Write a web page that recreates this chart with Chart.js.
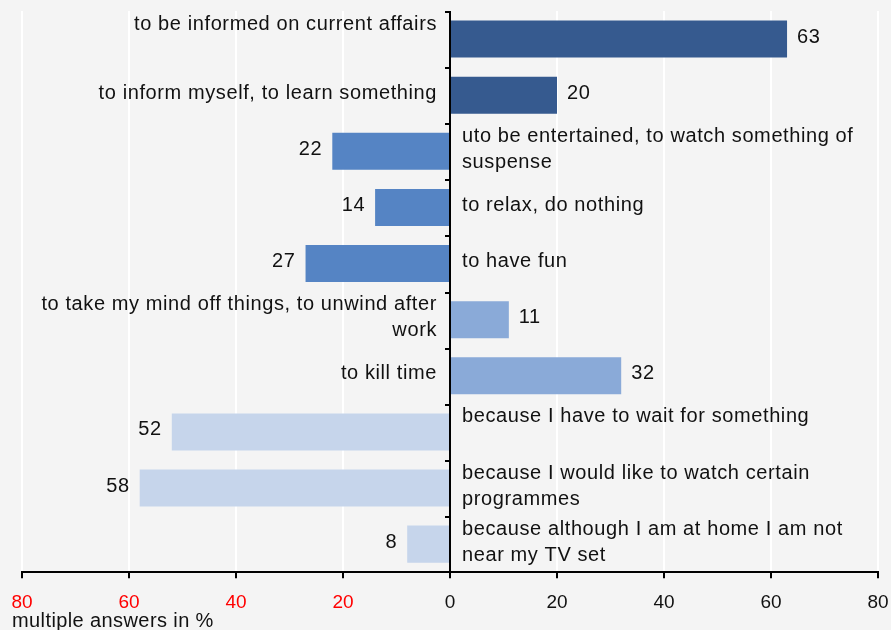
<!DOCTYPE html>
<html>
<head>
<meta charset="utf-8">
<script src="https://cdn.jsdelivr.net/npm/chart.js@4"></script>
<style>
  html, body { margin: 0; padding: 0; background: #f4f4f4; }
  #wrap { width: 891px; height: 630px; }
</style>
</head>
<body>
<div id="wrap"><canvas id="chart"></canvas></div>
<script>
// DATA
const categories = [
  ["to be informed on current affairs", ""],
  ["to inform myself, to learn something"],
  ["uto be entertained, to watch something of", "suspense"],
  ["to relax, do nothing"],
  ["to have fun"],
  ["to take my mind off things, to unwind after", "work"],
  ["to kill time"],
  ["because I have to wait for something", ""],
  ["because I would like to watch certain", "programmes"],
  ["because although I am at home I am not", "near my TV set"]
];
// negative = drawn to the left
const values = [63, 20, -22, -14, -27, 11, 32, -52, -58, -8];
const tickValues = [-80, -60, -40, -20, 0, 20, 40, 60, 80];
const axisTitle = "multiple answers in %";

const barColors = [
  "#365a8f", "#365a8f",
  "#5584c4", "#5584c4", "#5584c4",
  "#8aaad8", "#8aaad8",
  "#c6d5eb", "#c6d5eb", "#c6d5eb"
];

const FONT = "'Liberation Sans', Arial, sans-serif";

// background
const bgPlugin = {
  id: "bg",
  beforeDraw(chart) {
    const c = chart.ctx;
    c.fillStyle = "#f4f4f4";
    c.fillRect(0, 0, chart.width, chart.height);
  }
};

// labels, zero axis, title
const labelPlugin = {
  id: "labels",
  afterDatasetsDraw(chart) {
    const c = chart.ctx;
    const x = chart.scales.x;
    const area = chart.chartArea;
    const zero = x.getPixelForValue(0);
    const meta = chart.getDatasetMeta(0);

    c.save();
    // zero line with small ticks at category bounds
    c.strokeStyle = "#000";
    c.lineWidth = 2;
    c.beginPath();
    c.moveTo(zero, area.top);
    c.lineTo(zero, area.bottom);
    const step = (area.bottom - area.top) / categories.length;
    for (let i = 0; i < categories.length; i++) {
      const yy = Math.round(area.top + step * i) + 1;
      c.moveTo(zero - 5, yy);
      c.lineTo(zero, yy);
    }
    c.stroke();

    c.font = "20px " + FONT;
    c.fillStyle = "#111";
    c.textBaseline = "middle";
    c.letterSpacing = "0.6px";

    meta.data.forEach((bar, i) => {
      const v = values[i];
      const cy = bar.y;
      // value label
      if (v >= 0) {
        c.textAlign = "left";
        c.fillText(String(Math.abs(v)), bar.x + 10, cy - 2);
      } else {
        c.textAlign = "right";
        c.fillText(String(Math.abs(v)), bar.x - 10, cy - 2);
      }
      // category label on the opposite side
      const lines = categories[i];
      const lh = 26;
      const y0 = cy - 2 - (lines.length - 1) * lh / 2;
      c.textAlign = v >= 0 ? "right" : "left";
      const lx = v >= 0 ? zero - 13 : zero + 12;
      lines.forEach((t, k) => c.fillText(t, lx, y0 + k * lh));
    });

    // axis title
    c.textAlign = "left";
    c.letterSpacing = "0.4px";
    c.fillText(axisTitle, 12, 621);
    c.restore();
  }
};

new Chart(document.getElementById("chart"), {
  type: "bar",
  data: {
    labels: categories,
    datasets: [
      {
        data: values,
        backgroundColor: barColors,
        borderWidth: 0,
        categoryPercentage: 1,
        barPercentage: 0.66
      }
    ]
  },
  options: {
    indexAxis: "y",
    responsive: true,
    maintainAspectRatio: false,
    animation: false,
    layout: { padding: { top: 11, left: 22, right: 13, bottom: 3 } },
    plugins: {
      legend: { display: false },
      tooltip: { enabled: false }
    },
    scales: {
      x: {
        min: -80,
        max: 80,
        afterBuildTicks(scale) {
          scale.ticks = tickValues.map(v => ({ value: v }));
        },
        afterFit(scale) {
          scale.paddingLeft = 0;
          scale.paddingRight = 0;
        },
        ticks: {
          padding: 13,
          font: { size: 19, family: FONT },
          color: ctx => (ctx.tick.value < 0 ? "#ff0000" : "#111"),
          callback: v => String(Math.abs(v))
        },
        grid: {
          color: "#ffffff",
          lineWidth: 2,
          tickColor: "#000",
          tickLength: 6,
          tickWidth: 2
        },
        border: { display: true, color: "#000", width: 2 }
      },
      y: {
        display: false
      }
    }
  },
  plugins: [bgPlugin, labelPlugin]
});
</script>
</body>
</html>
